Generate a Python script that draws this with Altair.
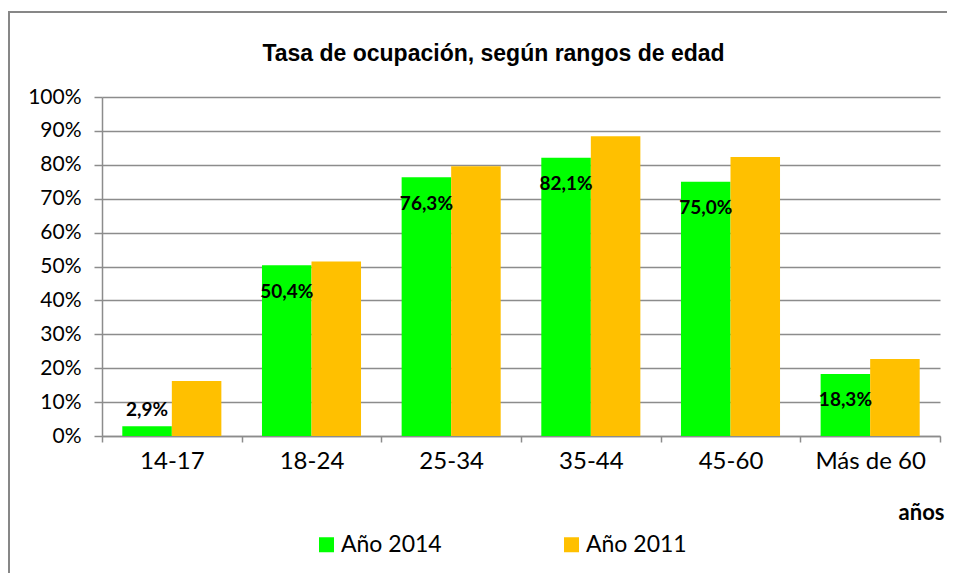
import altair as alt
import pandas as pd

categories = ["14-17", "18-24", "25-34", "35-44", "45-60", "Más de 60"]
series = ["Año 2014", "Año 2011"]
values_2014 = [2.9, 50.4, 76.3, 82.1, 75.0, 18.3]
values_2011 = [16.2, 51.5, 79.6, 88.4, 82.3, 22.7]
labels_2014 = ["2,9%", "50,4%", "76,3%", "82,1%", "75,0%", "18,3%"]
y_ticks = list(range(0, 101, 10))
colors = ["#00FF00", "#FFC000"]
title_text = "Tasa de ocupación, según rangos de edad"

rows = []
for c, a, b in zip(categories, values_2014, values_2011):
    rows.append({"cat": c, "serie": series[0], "v": a})
    rows.append({"cat": c, "serie": series[1], "v": b})
df = pd.DataFrame(rows)
lab = pd.DataFrame({"cat": categories, "serie": series[0], "v": values_2014, "label": labels_2014})

GRID = "#8c8c8c"
xscale = alt.Scale(domain=categories, paddingInner=0, paddingOuter=0)
xoff = alt.Scale(domain=series, paddingInner=0, paddingOuter=0.41)
yscale = alt.Scale(domain=[0, 100], nice=False)

x_axis = alt.Axis(
    tickBand="extent", labelAngle=0, labelFont="Lato", labelFontSize=24,
    labelColor="black", labelPadding=7, tickSize=6, tickColor=GRID, tickWidth=1.5,
    domainColor=GRID, domainWidth=1.5, grid=False,
    title="años", titleFont="Lato", titleFontWeight="bold", titleFontSize=22,
    titleColor="black", titleAnchor="end", titleAlign="right",
    titleX=842, titleY=83, titleBaseline="alphabetic",
)
y_axis = alt.Axis(
    values=y_ticks, labelExpr="datum.value + '%'", grid=True, gridColor=GRID,
    gridWidth=1.5, domainColor=GRID, domainWidth=1.5, tickColor=GRID, tickWidth=1.5,
    tickSize=8, labelFont="Lato", labelFontSize=21, labelColor="black",
    labelPadding=13, title=None,
)

bars = alt.Chart(df).mark_bar().encode(
    x=alt.X("cat:N", scale=xscale, sort=categories, axis=x_axis),
    xOffset=alt.XOffset("serie:N", scale=xoff, sort=series),
    y=alt.Y("v:Q", scale=yscale, axis=y_axis),
    color=alt.Color(
        "serie:N", scale=alt.Scale(domain=series, range=colors), sort=series,
        legend=alt.Legend(
            title=None, orient="none", legendX=213, legendY=436, direction="horizontal",
            symbolType="square", symbolSize=225, symbolStrokeWidth=0, symbolOpacity=1,
            labelFont="Lato", labelFontSize=23, labelColor="black", labelOffset=3,
            columnPadding=118, padding=0,
        ),
    ),
)

text = alt.Chart(lab).transform_calculate(
    ly="max(datum.v - 7.8, 7.7)"
).mark_text(
    font="Lato", fontWeight="bold", fontSize=19, baseline="middle", color="black"
).encode(
    x=alt.X("cat:N", scale=xscale, sort=categories, axis=x_axis),
    xOffset=alt.XOffset("serie:N", scale=xoff, sort=series),
    y=alt.Y("ly:Q", scale=yscale, axis=y_axis),
    text="label:N",
)

frame = alt.Chart(pd.DataFrame({"k": [0]})).mark_rect(
    fill="transparent", stroke="#878787", strokeWidth=2
).encode(
    x=alt.value(-93), x2=alt.value(900), y=alt.value(-85), y2=alt.value(600)
)

title = alt.Chart(pd.DataFrame({"t": [title_text]})).mark_text(
    font="Liberation Sans", fontSize=23, fontWeight="bold", color="black",
    align="center", baseline="alphabetic",
).encode(
    x=alt.value(391.5), y=alt.value(-36), text="t:N"
)

chart = alt.layer(frame, bars, text, title).properties(
    width=838, height=339,
    autosize=alt.AutoSizeParams(type="none"),
    padding={"left": 94, "top": 89, "right": 7, "bottom": 137},
).configure_view(stroke=None)

chart.save("out.html", embed_options={"renderer": "svg", "actions": False})
